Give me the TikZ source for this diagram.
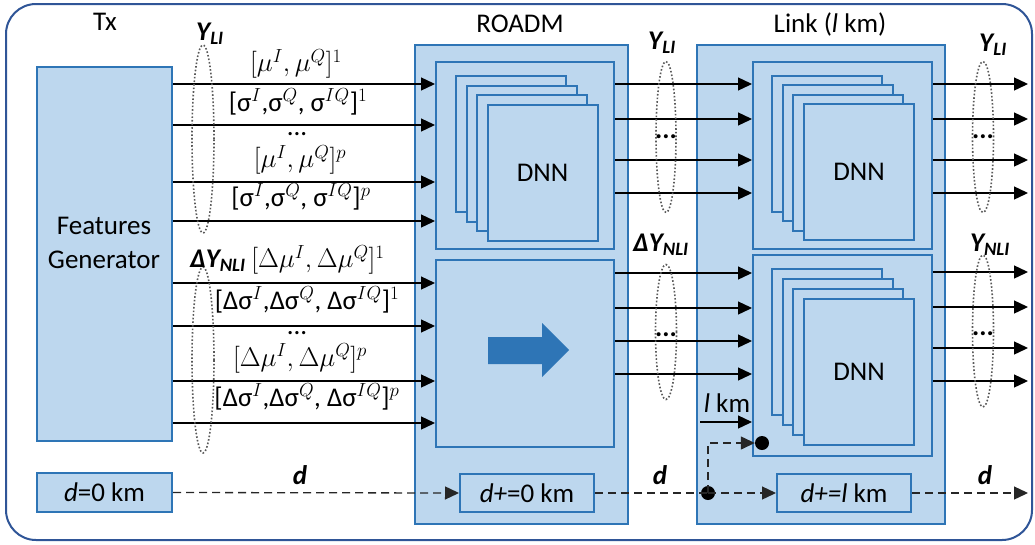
\RequirePackage{fix-cm}
\documentclass[tikz,border=0pt]{standalone}
\usepackage{fontspec}
\setmainfont{Carlito}
\usetikzlibrary{arrows.meta,shapes.geometric,positioning}
\definecolor{boxfill}{RGB}{189,215,238}
\definecolor{boxline}{RGB}{46,117,182}
\definecolor{framecol}{RGB}{47,85,151}
\definecolor{bundlegray}{RGB}{89,89,89}
\tikzset{
  frame/.style={draw=framecol,line width=2pt,rounded corners=30pt,inner sep=0pt},
  block/.style={draw=boxline,line width=2pt,fill=boxfill,inner sep=0pt},
  dnn/.style={block,anchor=north west},
  flow/.style={-{Triangle[length=14pt,width=13pt]},line width=1.3pt},
  dline/.style={black!85,line width=1.3pt,dash pattern=on 8pt off 5pt},
  bundle/.style={ellipse,draw=bundlegray,line width=1.6pt,dotted,inner sep=0pt},
  junction/.style={circle,fill=black,minimum size=14pt,inner sep=0pt},
  lab/.style={inner sep=1pt},
  ylab/.style={inner sep=1pt,font=\fontsize{27}{32}\selectfont\bfseries\itshape},
}

\begin{document}
\begin{tikzpicture}[x=1pt,y=-1pt,font=\fontsize{27}{34}\selectfont]
  \path[use as bounding box] (0,0) rectangle (1035,544);
  \node[frame,minimum width=1026,minimum height=536] (frame) at (519,272) {};

  % transmitter
  \node[lab] (tx) at (105,22) {Tx};
  \node[block,minimum width=135,minimum height=374] (gen) at (104.5,254) {};
  \node[lab,align=center] (gentext) at (104,243) {Features\\Generator};
  \node[block,minimum width=135,minimum height=39] (dzero) at (104.5,492.5) {\textit{d}=0 km};

  % ROADM
  \node[lab] (roadmtext) at (520,24) {ROADM};
  \node[block,minimum width=213,minimum height=479] (roadm) at (521.5,284.5) {};
  \node[block,minimum width=178,minimum height=187] (rdnnbox) at (525,155.5) {};
  \node[block,minimum width=178,minimum height=187] (rfwd) at (525,353.5) {};
  \foreach \i in {0,...,3}{
    \node[dnn,minimum width=110,minimum height=136] (rdnn\i) at ({455+10.5*\i},{75+9.5*\i}) {};
  }
  \node[lab] at (rdnn3) {DNN};
  \fill[boxline] (488,337) -- (542,337) -- (542,323) -- (569,350) -- (542,377) -- (542,364) -- (488,364) -- cycle;
  \node[block,minimum width=134,minimum height=38] (rdplus) at (527,493) {\textit{d+}=0 km};

  % link
  \node[lab] (linktext) at (830,24) {Link (\textit{l} km)};
  \node[block,minimum width=248,minimum height=479] (link) at (821,284.5) {};
  \node[block,minimum width=179,minimum height=187] (ldnnbox) at (842.5,155.5) {};
  \node[block,minimum width=179,minimum height=201] (lnlibox) at (842.5,355.5) {};
  \foreach \i in {0,...,3}{
    \node[dnn,minimum width=110,minimum height=136] (ldnn\i) at ({771+10.7*\i},{75+9.3*\i}) {};
    \node[dnn,minimum width=110,minimum height=146] (lnli\i) at ({771+10.7*\i},{268+10*\i}) {};
  }
  \node[lab] at (ldnn3) {DNN};
  \node[lab] at (lnli3) {DNN};
  \node[block,minimum width=134,minimum height=38] (ldplus) at (844,493) {\textit{d+=l} km};

  % feature lanes into the ROADM
  \foreach \yy in {84,125,182,221}{\draw[flow] (gen.east |- 0,\yy) -- (rdnnbox.west |- 0,\yy);}
  \foreach \yy in {283,326,381,423}{\draw[flow] (gen.east |- 0,\yy) -- (rfwd.west |- 0,\yy);}
  \node[lab] (mua) at (296,64) {$[\mu^I,\mu^Q]^1$};
  \node[lab] (sga) at (298,102) {[σ$^I$,σ$^Q$, σ$^{IQ}$]$^1$};
  \node[lab] (dotsa) at (297,134) {...};
  \node[lab] (mup) at (300,160) {$[\mu^I,\mu^Q]^p$};
  \node[lab] (sgp) at (301,197) {[σ$^I$,σ$^Q$, σ$^{IQ}$]$^p$};
  \node[lab] (dmua) at (318,260) {$[\Delta\mu^I,\Delta\mu^Q]^1$};
  \node[lab] (dsga) at (307,300) {[Δσ$^I$,Δσ$^Q$, Δσ$^{IQ}$]$^1$};
  \node[lab] (dotsb) at (297,333) {...};
  \node[lab] (dmup) at (300,358) {$[\Delta\mu^I,\Delta\mu^Q]^p$};
  \node[lab] (dsgp) at (307,397) {[Δσ$^I$,Δσ$^Q$, Δσ$^{IQ}$]$^p$};

  \node[bundle,minimum width=22,minimum height=188] (yli1) at (203,139) {};
  \node[bundle,minimum width=22,minimum height=186] (ynli1) at (203,360) {};
  \node[ylab] (yli1text) at (210,34) {Y\textsubscript{LI}};
  \node[ylab] (ynli1text) at (218,261) {ΔY\textsubscript{NLI}};

  % ROADM to link
  \foreach \yy in {84,119,160,193}{\draw[flow] (rdnnbox.east |- 0,\yy) -- (ldnnbox.west |- 0,\yy);}
  \foreach \yy in {273,308,341,374}{\draw[flow] (rfwd.east |- 0,\yy) -- (lnlibox.west |- 0,\yy);}
  \node[bundle,minimum width=20,minimum height=151] (yli2) at (666,137) {};
  \node[bundle,minimum width=21,minimum height=135] (ynli2) at (666,332) {};
  \node[ylab] (yli2text) at (662,43) {Y\textsubscript{LI}};
  \node[ylab] (ynli2text) at (661,245) {ΔY\textsubscript{NLI}};
  \node[lab,font=\fontsize{27}{34}\selectfont\bfseries] at (yli2) {...};
  \node[lab,font=\fontsize{27}{34}\selectfont\bfseries] at ([yshift=-3]ynli2.center) {...};

  % link outputs
  \coordinate (outR) at (1028,0);
  \foreach \yy in {84,119,160,193}{\draw[flow] (ldnnbox.east |- 0,\yy) -- (outR |- 0,\yy);}
  \foreach \yy in {272,307,348,381}{\draw[flow] (lnlibox.east |- 0,\yy) -- (outR |- 0,\yy);}
  \node[bundle,minimum width=21,minimum height=151] (yli3) at (983,137) {};
  \node[bundle,minimum width=21,minimum height=152] (ynli3) at (983,331) {};
  \node[ylab] (yli3text) at (993,45) {Y\textsubscript{LI}};
  \node[ylab] (ynli3text) at (990,245) {Y\textsubscript{NLI}};
  \node[lab,font=\fontsize{27}{34}\selectfont\bfseries] at (yli3) {...};
  \node[lab,font=\fontsize{27}{34}\selectfont\bfseries] at ([yshift=-3]ynli3.center) {...};

  % distance lane
  \coordinate (lkmstart) at (700,422);
  \draw[flow] (lkmstart) -- (lnlibox.west |- lkmstart);
  \node[lab] (lkm) at (727,403) {\textit{l} km};
  \node[junction] (jdot) at (708,493) {};
  \node[junction] (ldot) at (762,443) {};
  \draw[dline,flow] (dzero.east) -- (rdplus.west);
  \draw[dline] (rdplus.east) -- (jdot.center);
  \draw[dline,flow] (jdot.center) -- (ldplus.west);
  \draw[dline,flow] (jdot.center) |- (ldot.west);
  \draw[dline,flow] (ldplus.east) -- (outR |- ldplus.east);
  \node[ylab] (da) at (300,475) {d};
  \node[ylab] (db) at (660,475) {d};
  \node[ylab] (dc) at (985,475) {d};
\end{tikzpicture}
\end{document}
